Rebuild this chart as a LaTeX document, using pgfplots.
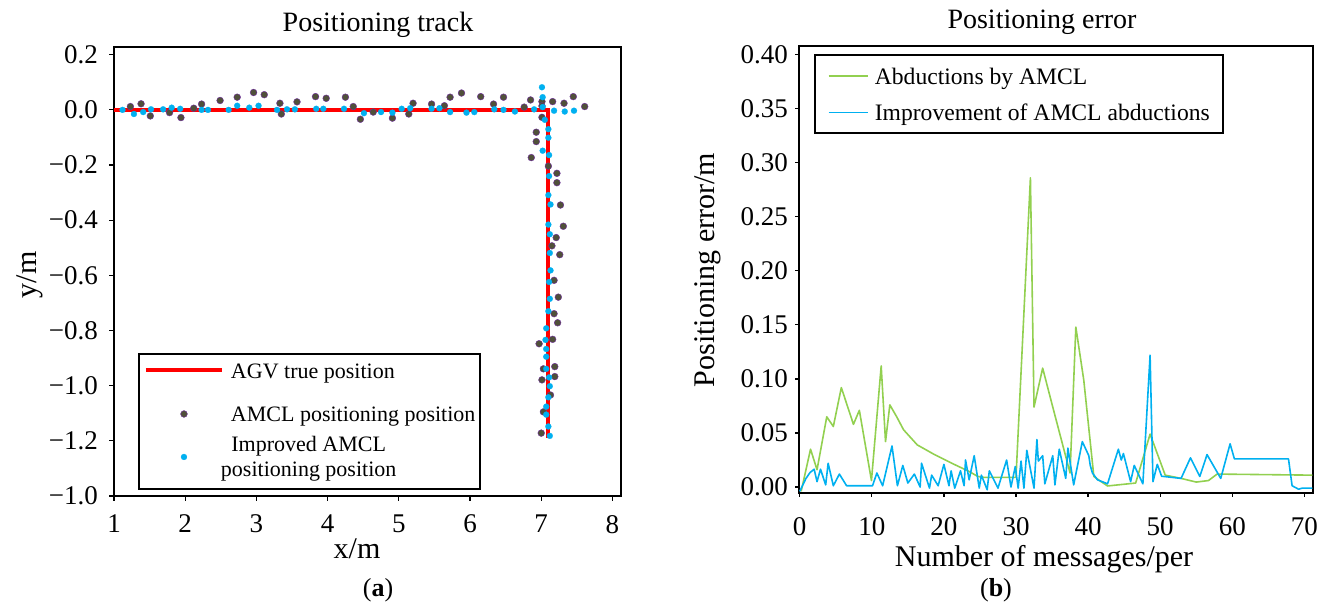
\documentclass[border=0pt]{standalone}
\usepackage{fontspec}
\setmainfont{Liberation Serif}
\usepackage{pgfplots}
\pgfplotsset{compat=1.18}
\definecolor{agvred}{RGB}{255,0,0}
\definecolor{amcldark}{RGB}{80,80,58}
\definecolor{amcledge}{RGB}{112,48,160}
\definecolor{impblue}{RGB}{0,176,240}
\definecolor{abgreen}{RGB}{146,208,80}
\pgfplotsset{
  legred/.style={legend image code/.code={\draw[##1] (0pt,4.5pt) -- (38pt,4.5pt);}},
  legdark/.style={legend image code/.code={\draw[##1] plot coordinates {(19pt,4pt)};}},
  legblue/.style={legend image code/.code={\draw[##1] plot coordinates {(19pt,-2.5pt)};}},
  legline/.style={legend image code/.code={\draw[##1] (0pt,4pt) -- (19.75pt,4pt);}},
}

\pgfplotstableread{
x y
1.23 0.012
1.38 0.022
1.51 -0.022
1.78 -0.010
1.94 -0.028
2.12 0.006
2.23 0.021
2.49 0.034
2.73 0.046
2.96 0.063
3.11 0.055
3.33 0.024
3.35 -0.015
3.57 0.029
3.83 0.048
3.98 0.042
4.25 0.046
4.36 0.012
4.46 -0.034
4.64 -0.008
4.91 -0.030
5.14 -0.015
5.20 0.024
5.46 0.021
5.64 0.015
5.72 0.046
5.88 0.061
6.15 0.048
6.33 0.021
6.47 0.046
6.76 0.010
6.85 0.036
7.01 0.030
7.01 0.014
7.01 -0.027
7.16 0.030
7.32 0.024
7.45 0.048
7.61 0.012
6.93 -0.081
6.93 -0.115
6.86 -0.173
7.10 -0.204
7.22 -0.230
7.22 -0.264
7.27 -0.345
7.31 -0.422
7.21 -0.463
7.15 -0.493
7.26 -0.525
7.18 -0.618
7.24 -0.679
7.18 -0.739
7.23 -0.772
7.16 -0.832
6.97 -0.848
7.03 -0.939
7.19 -0.931
7.19 -0.967
7.01 -0.979
7.13 -1.034
7.03 -1.095
7.00 -1.172
}\amcl

\pgfplotstableread{
x y
1.12 0.000
1.28 -0.015
1.41 -0.008
1.52 0.002
1.69 0.002
1.81 0.008
1.93 0.004
2.23 0.000
2.32 0.000
2.61 0.000
2.73 0.015
2.90 0.008
3.03 0.015
3.29 0.000
3.43 0.002
3.54 0.002
3.84 0.004
3.94 0.004
4.23 0.004
4.51 -0.012
4.75 -0.008
4.91 -0.010
5.04 0.004
5.16 0.006
5.46 0.004
5.57 0.006
5.72 -0.008
5.95 -0.010
6.06 -0.008
6.34 0.002
6.47 0.000
6.63 -0.006
6.90 0.002
7.01 0.082
7.02 0.046
7.02 0.010
7.18 -0.003
7.33 -0.006
7.46 -0.003
7.05 -0.036
7.10 -0.070
7.10 -0.101
7.02 -0.148
7.11 -0.164
7.11 -0.240
7.10 -0.309
7.13 -0.343
7.10 -0.416
7.12 -0.451
7.12 -0.519
7.13 -0.582
7.11 -0.624
7.12 -0.685
7.10 -0.730
7.07 -0.792
7.06 -0.834
7.07 -0.867
7.07 -0.895
7.07 -0.939
7.11 -0.970
7.12 -1.002
7.10 -1.042
7.07 -1.076
7.07 -1.105
7.10 -1.148
7.12 -1.182
}\improved

\pgfplotstableread{
x y
0.2 -0.004
1.5 0.035
2.4 0.016
3.75 0.065
4.66 0.056
5.77 0.092
7.45 0.058
8.27 0.071
9.95 0.006
11.3 0.112
11.9 0.042
12.5 0.076
13.45 0.065
14.4 0.053
16.3 0.039
18.7 0.030
21.1 0.022
23.5 0.0144
24.7 0.0098
25.5 0.009
30.0 0.009
32.0 0.286
32.5 0.074
33.7 0.110
35.1 0.074
37.5 0.013
38.3 0.148
39.4 0.099
40.8 0.0098
41.8 0.005
42.7 0.001
46.6 0.0037
48.6 0.049
50.7 0.011
52.9 0.008
55.0 0.0046
56.7 0.006
57.9 0.012
71.1 0.011
}\abduct

\pgfplotstableread{
x y
0.0 -0.004
0.87 0.008
1.44 0.0135
2.0 0.0165
2.4 0.005
2.88 0.0165
3.6 0.002
3.94 0.022
4.66 0.0012
5.5 0.012
6.5 0.0012
10.1 0.0012
10.7 0.013
11.5 0.0012
12.8 0.038
13.55 0.0012
14.3 0.020
15.0 0.0037
15.9 0.012
16.7 0.000
16.9 0.022
18.0 -0.001
18.3 0.011
19.2 0.0012
20.0 0.021
20.7 0.0012
21.0 0.015
21.5 -0.001
22.3 0.015
22.8 0.0012
23.0 0.025
23.5 0.0067
24.2 0.029
24.9 -0.001
25.2 0.011
26.0 -0.0025
26.3 0.015
27.5 -0.001
28.7 0.025
29.3 0.000
29.9 0.019
30.3 -0.001
30.7 0.024
31.1 -0.001
31.5 0.034
32.5 -0.001
32.9 0.044
33.1 0.024
33.7 0.029
34.0 0.003
35.1 0.029
35.4 0.002
36.0 0.035
36.9 0.008
37.2 0.036
38.0 0.002
39.2 0.042
40.1 0.029
40.3 0.020
40.6 0.013
41.3 0.0067
42.7 0.003
44.2 0.035
44.6 0.025
44.9 0.031
45.9 0.005
46.4 0.020
47.6 0.003
48.6 0.122
49.0 0.005
49.6 0.021
50.2 0.010
52.9 0.008
54.2 0.027
55.5 0.0098
56.5 0.030
58.4 0.008
59.7 0.040
60.3 0.026
67.8 0.026
68.3 0.0012
69.2 -0.002
69.7 -0.001
71.1 -0.001
}\improvement

\begin{document}
\begin{tikzpicture}
\path[use as bounding box] (0,0) rectangle (663.5pt,304pt);

% ---------------- left panel ----------------
\begin{axis}[
  at={(57pt,56pt)}, anchor=south west,
  scale only axis, width=253.5pt, height=224.5pt,
  xmin=1, xmax=8.12, ymin=-1.4, ymax=0.228,
  xtick={1,2,3,4,5,6,7,8},
  ytick={0.2,0,-0.2,-0.4,-0.6,-0.8,-1,-1.2,-1.4},
  yticklabels={0.2,0.0,−0.2,−0.4,−0.6,−0.8,−1.0,−1.2,−1.0},
  xtick pos=bottom, ytick pos=left, tick align=outside,
  major tick length=2.5pt,
  tick style={black, line width=0.6pt},
  axis line style={black, line width=1pt},
  ticklabel style={font=\fontsize{13.5}{16}\selectfont},
  yticklabel style={xshift=-2pt},
  xticklabel style={yshift=-3.5pt},
  /pgf/number format/assume math mode=true,
  legend style={at={(0.0473,0.3185)}, anchor=north west, draw=black,
    line width=1pt, fill=white, inner xsep=2.5pt, inner ysep=0pt,
    font=\fontsize{11}{12.5}\selectfont,
    cells={anchor=base west}, nodes={inner sep=0pt, text depth=},
    column sep=3.5pt, row sep=0pt},
]
\addplot[agvred, line width=2pt, line join=miter, legred]
  coordinates {(1,0) (7.1,0) (7.1,-1.19)};
\addlegendentry{\rule[-10pt]{0pt}{22.5pt}AGV true position}
\addplot[amcldark, only marks, mark=*, mark size=1.7pt,
  mark options={fill=amcldark, draw=amcledge, line width=0.2pt}, legdark]
  table[x=x, y=y] {\amcl};
\addlegendentry{\rule[-4pt]{0pt}{15.5pt}AMCL positioning position\hspace{2.5pt}}
\addplot[impblue, only marks, mark=*, mark size=1.5pt,
  mark options={fill=impblue, draw=impblue, line width=0.1pt}, legblue]
  table[x=x, y=y] {\improved};
\addlegendentry{\rule[-18.5pt]{0pt}{29.5pt}\hspace*{-5pt}\smash{\begin{tabular}[t]{@{}c@{}}Improved AMCL\\positioning position\end{tabular}}}
\end{axis}

% ---------------- right panel ----------------
\begin{axis}[
  at={(399.5pt,57.5pt)}, anchor=south west,
  scale only axis, width=257pt, height=223.5pt,
  xmin=-0.1, xmax=71.2, ymin=-0.0055, ymax=0.408,
  xtick={0,10,20,30,40,50,60,70},
  ytick={0,0.05,0.1,0.15,0.2,0.25,0.3,0.35,0.4},
  yticklabel style={/pgf/number format/.cd, fixed, fixed zerofill, precision=2},
  xtick pos=bottom, ytick pos=left, tick align=outside,
  major tick length=2pt,
  tick style={black, line width=0.6pt},
  axis line style={black, line width=1.2pt},
  ticklabel style={font=\fontsize{13.5}{16}\selectfont},
  xticklabel style={yshift=-6.5pt},
  /pgf/number format/assume math mode=true,
  legend style={at={(0.0283,0.982)}, anchor=north west, draw=black,
    line width=1.2pt, fill=white, inner xsep=6.5pt, inner ysep=0pt,
    font=\fontsize{11.8}{14}\selectfont,
    cells={anchor=base west}, nodes={inner sep=0pt, text depth=},
    column sep=3pt, row sep=0pt},
]
\addplot[abgreen, line width=0.8pt, line join=round, legline] table[x=x, y=y] {\abduct};
\addlegendentry{\rule[-5pt]{0pt}{19.5pt}Abductions by AMCL}
\addplot[impblue, line width=0.8pt, line join=round, legline] table[x=x, y=y] {\improvement};
\addlegendentry{\rule[-6.4pt]{0pt}{19.5pt}Improvement of AMCL abductions}
\end{axis}

% ---------------- texts ----------------
\node[font=\fontsize{14}{16}\selectfont] at (189pt,291.5pt) {Positioning track};
\node[font=\fontsize{14}{16}\selectfont] at (521pt,293pt) {Positioning error};
\node[rotate=90, font=\fontsize{15}{18}\selectfont] at (15pt,166.5pt) {y/m};
\node[rotate=90, font=\fontsize{15}{18}\selectfont] at (354pt,169pt) {Positioning error/m};
\node[font=\fontsize{15}{18}\selectfont] at (178.5pt,29.5pt) {x/m};
\node[font=\fontsize{15}{17}\selectfont] at (522pt,24.5pt) {Number of messages/per};
\node[font=\fontsize{13}{15}\selectfont] at (189pt,9pt) {(\textbf{a})};
\node[font=\fontsize{13}{15}\selectfont] at (498pt,9pt) {(\textbf{b})};
\end{tikzpicture}
\end{document}
